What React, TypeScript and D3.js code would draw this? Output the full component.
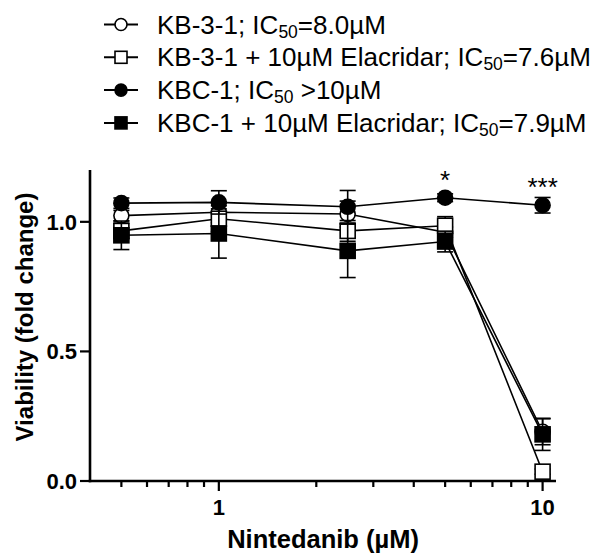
import React from 'react';
import * as d3 from 'd3';

// concentrations (µM)
const doses = [0.5, 1, 2.5, 5, 10];

const kb31 = [1.024, 1.037, 1.03, 0.96, 0.19];
const kb31Err = [0.02, 0.04, 0.05, 0.02, 0.05];
const kb31Ela = [0.965, 1.012, 0.965, 0.985, 0.036];
const kb31ElaErr = [0.03, 0.05, 0.04, 0.035, 0.01];
const kbc1 = [1.072, 1.075, 1.058, 1.093, 1.064];
const kbc1Err = [0.02, 0.045, 0.063, 0.015, 0.03];
const kbc1Ela = [0.948, 0.955, 0.888, 0.924, 0.18];
const kbc1ElaErr = [0.055, 0.095, 0.103, 0.04, 0.062];

const seriesNames = ['KB-3-1', 'KB-3-1 + 10µM Elacridar', 'KBC-1', 'KBC-1 + 10µM Elacridar'];
const ic50Text = ['=8.0µM', '=7.6µM', ' >10µM', '=7.9µM'];
const yTicks = [0, 0.5, 1.0];
const xMajor = [1, 10];
const xMinor = [0.5, 0.6, 0.7, 0.8, 0.9, 2, 3, 4, 5, 6, 7, 8, 9];
const stars = [{ x: 5, label: '*' }, { x: 10, label: '***' }];

const FONT = '"Liberation Sans", Arial, Helvetica, sans-serif';

const series = [
  { name: seriesNames[0], ic: ic50Text[0], y: kb31, e: kb31Err, shape: 'circle', fill: '#fff' },
  { name: seriesNames[1], ic: ic50Text[1], y: kb31Ela, e: kb31ElaErr, shape: 'square', fill: '#fff' },
  { name: seriesNames[2], ic: ic50Text[2], y: kbc1, e: kbc1Err, shape: 'circle', fill: '#000' },
  { name: seriesNames[3], ic: ic50Text[3], y: kbc1Ela, e: kbc1ElaErr, shape: 'square', fill: '#000' },
];

const Marker = ({ shape, cx, cy, size, fill }) =>
  shape === 'circle' ? (
    <circle cx={cx} cy={cy} r={size / 2} fill={fill} stroke="#000" strokeWidth={1.6} />
  ) : (
    <rect x={cx - size / 2} y={cy - size / 2} width={size} height={size} fill={fill} stroke="#000" strokeWidth={1.6} />
  );

export default function App() {
  const left = 90, right = 556, top = 170, bottom = 481;
  const x = d3.scaleLog().domain([0.4, 11]).range([left, right]);
  const y = d3.scaleLinear().domain([0, 1.2]).range([bottom, top]);
  const line = d3.line<number>().x((_, i) => x(doses[i])).y((d) => y(d));
  const cap = 8;

  return (
    <svg width={591} height={555} style={{ position: 'absolute', left: 0, top: 0, background: '#fff' }} fontFamily={FONT}>
      {/* legend */}
      {series.map((s, i) => {
        const by = 33.5 + i * 32.8;
        const cy = by - 9;
        return (
          <g key={s.name}>
            <line x1={104} x2={138} y1={cy} y2={cy} stroke="#000" strokeWidth={2} />
            <Marker shape={s.shape} cx={121} cy={cy} size={12} fill={s.fill} />
            <text x={157} y={by} fontSize={26} fill="#000">
              {s.name}; IC<tspan fontSize={17.5} dy={4}>50</tspan>
              <tspan dy={-4}>{s.ic}</tspan>
            </text>
          </g>
        );
      })}

      {/* series lines, error bars, markers */}
      {series.map((s) => (
        <g key={'s' + s.name}>
          <path d={line(s.y) || ''} fill="none" stroke="#000" strokeWidth={1.6} />
          {s.y.map((v, i) => (
            <g key={i} stroke="#000" strokeWidth={1.6}>
              <line x1={x(doses[i])} x2={x(doses[i])} y1={y(v - s.e[i])} y2={y(v + s.e[i])} />
              <line x1={x(doses[i]) - cap} x2={x(doses[i]) + cap} y1={y(v - s.e[i])} y2={y(v - s.e[i])} />
              <line x1={x(doses[i]) - cap} x2={x(doses[i]) + cap} y1={y(v + s.e[i])} y2={y(v + s.e[i])} />
            </g>
          ))}
          {s.y.map((v, i) => (
            <Marker key={'m' + i} shape={s.shape} cx={x(doses[i])} cy={y(v)} size={15} fill={s.fill} />
          ))}
        </g>
      ))}

      {/* significance */}
      {stars.map((st) => {
        const i = doses.indexOf(st.x);
        return (
          <text key={st.label} x={x(st.x)} y={y(kbc1[i]) - 9} textAnchor="middle" fontSize={26}>
            {st.label}
          </text>
        );
      })}

      {/* axes */}
      <line x1={left} x2={left} y1={top} y2={bottom + 1.3} stroke="#000" strokeWidth={2.6} />
      <line x1={left - 1.3} x2={right} y1={bottom} y2={bottom} stroke="#000" strokeWidth={2.6} />
      {yTicks.map((t) => (
        <g key={t}>
          <line x1={left - 10} x2={left} y1={y(t)} y2={y(t)} stroke="#000" strokeWidth={2.2} />
          <text x={left - 13} y={y(t)} dy="0.36em" textAnchor="end" fontSize={22} fontWeight="bold">
            {d3.format('.1f')(t)}
          </text>
        </g>
      ))}
      {xMinor.map((t) => (
        <line key={t} x1={x(t)} x2={x(t)} y1={bottom} y2={bottom + 6} stroke="#000" strokeWidth={2.2} />
      ))}
      {xMajor.map((t) => (
        <g key={t}>
          <line x1={x(t)} x2={x(t)} y1={bottom} y2={bottom + 10} stroke="#000" strokeWidth={2.2} />
          <text x={x(t)} y={515} textAnchor="middle" fontSize={22} fontWeight="bold">
            {t}
          </text>
        </g>
      ))}
      <text x={(left + right) / 2} y={548} textAnchor="middle" fontSize={25.5} fontWeight="bold">
        Nintedanib (µM)
      </text>
      <text transform={`translate(33,317) rotate(-90)`} textAnchor="middle" fontSize={24} fontWeight="bold">
        Viability (fold change)
      </text>
    </svg>
  );
}
